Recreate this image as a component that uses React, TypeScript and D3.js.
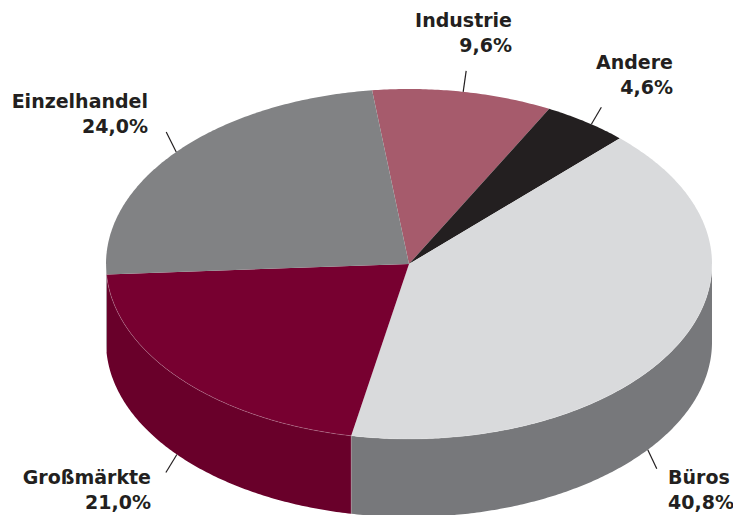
import React from 'react';
import * as d3 from 'd3';

// ---- data ----
const categories = ['Industrie', 'Andere', 'Büros', 'Großmärkte', 'Einzelhandel'];
const shares = [9.6, 4.6, 40.8, 21.0, 24.0];
const shareLabels = ['9,6%', '4,6%', '40,8%', '21,0%', '24,0%'];
const topColors = ['#a65b6c', '#231f20', '#d9dadc', '#770030', '#818284'];
const sideColors = ['#8b4858', '#1a1718', '#77787b', '#69002a', '#6e6f71'];

// ---- layout ----
const W = 733;
const H = 515;
const cx = 409;
const cy = 264;
const rx = 303;
const ry = 175;
const depth = 78;
const startDeg = -7;

// label layout: text anchor, text x, first baseline, leader attach angle (deg), whether on wall bottom, leader offset
const labelLayout = [
  { anchor: 'end', x: 512, y: 27, ang: 10.3, bottom: false, dx: 3, dy: -21 },
  { anchor: 'end', x: 673, y: 69, ang: 37, bottom: false, dx: 10, dy: -17 },
  { anchor: 'start', x: 668, y: 484, ang: 128, bottom: true, dx: 9, dy: 19 },
  { anchor: 'end', x: 151, y: 484, ang: 230, bottom: true, dx: -11, dy: 18 },
  { anchor: 'end', x: 148, y: 108, ang: 309.8, bottom: false, dx: -10, dy: -20 },
];

const rad = (d: number) => (d * Math.PI) / 180;
const pt = (t: number, dy = 0): [number, number] => [cx + rx * Math.sin(t), cy - ry * Math.cos(t) + dy];

const sample = (a0: number, a1: number, dy = 0) => {
  const n = Math.max(2, Math.ceil(Math.abs(a1 - a0) / 0.01));
  return d3.range(n + 1).map((i) => pt(a0 + ((a1 - a0) * i) / n, dy));
};

const line = d3.line();

function topPath(a0: number, a1: number) {
  return line([[cx, cy], ...sample(a0, a1)]) + 'Z';
}

function wallPath(a0: number, a1: number) {
  const lo = Math.max(a0, Math.PI / 2);
  const hi = Math.min(a1, (3 * Math.PI) / 2);
  if (hi <= lo) return null;
  return line([...sample(lo, hi), ...sample(hi, lo, depth)]) + 'Z';
}

export default function App() {
  const s0 = rad(startDeg);
  const pie = d3
    .pie<number>()
    .sort(null)
    .value((d) => d)
    .startAngle(s0)
    .endAngle(s0 + 2 * Math.PI);
  const arcs = pie(shares);

  const frontEdge = line(sample(Math.PI / 2, (3 * Math.PI) / 2));

  return (
    <svg
      width={W}
      height={H}
      viewBox={`0 0 ${W} ${H}`}
      style={{ position: 'absolute', left: 0, top: 0, background: '#ffffff' }}
    >
      <g>
        {arcs.map((a, i) => {
          const p = wallPath(a.startAngle, a.endAngle);
          return p ? <path key={'w' + i} d={p} fill={sideColors[i]} /> : null;
        })}
        {arcs.map((a, i) => {
          const t = a.startAngle;
          if (t <= Math.PI / 2 || t >= (3 * Math.PI) / 2) return null;
          const [x1, y1] = pt(t);
          const [x2, y2] = pt(t, depth);
          return (
            <line key={'s' + i} x1={x1} y1={y1} x2={x2} y2={y2} stroke="rgba(255,255,255,0.3)" strokeWidth={0.8} />
          );
        })}
        {arcs.map((a, i) => (
          <path key={'t' + i} d={topPath(a.startAngle, a.endAngle)} fill={topColors[i]} />
        ))}
        <path d={frontEdge || ''} fill="none" stroke="rgba(255,255,255,0.28)" strokeWidth={0.7} />
      </g>
      <g fill="#231f20" fontFamily="'DejaVu Sans', sans-serif" fontWeight="bold" fontSize={19}>
        {categories.map((c, i) => {
          const L = labelLayout[i];
          const [lx, ly] = pt(rad(L.ang), L.bottom ? depth : 0);
          return (
            <g key={'l' + i}>
              <line x1={lx} y1={ly} x2={lx + L.dx} y2={ly + L.dy} stroke="#231f20" strokeWidth={1.2} />
              <text x={L.x} y={L.y} textAnchor={L.anchor}>
                {c}
              </text>
              <text x={L.x} y={L.y + 25} textAnchor={L.anchor}>
                {shareLabels[i]}
              </text>
            </g>
          );
        })}
      </g>
    </svg>
  );
}
